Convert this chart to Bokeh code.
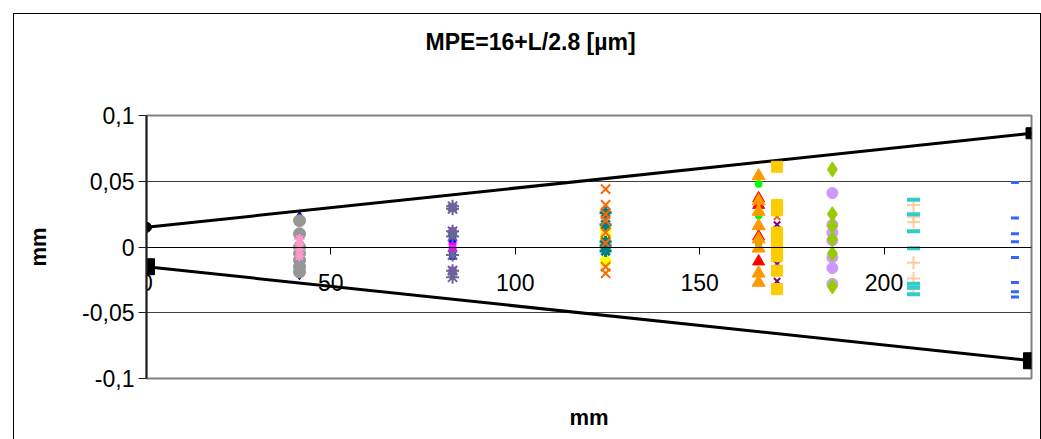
from bokeh.plotting import figure
from bokeh.models import Range1d, FixedTicker, CustomJSTickFormatter, LinearAxis, Title
from bokeh.embed import file_html
from bokeh.resources import INLINE

# ---------------- data ----------------
title_text = "MPE=16+L/2.8 [µm]"
x_ticks = [0, 50, 100, 150, 200]
y_ticks = [-0.1, -0.05, 0, 0.05, 0.1]

limit_x = [0, 240]
upper_limit = [0.015, 0.0865]
lower_limit = [-0.015, -0.0865]

# cluster L ~ 41.5
navy_x = [41.5, 41.5, 41.5]
navy_y = [0.022, 0.008, -0.020]
gray_x = [41.5, 41.5, 41.5, 41.5, 41.5, 41.5, 41.5]
gray_y = [0.020, 0.010, 0.000, -0.005, -0.010, -0.015, -0.019]
pink_x = [41.5, 41.5, 41.5, 41.5]
pink_y = [0.006, 0.002, -0.002, -0.007]

# cluster L ~ 83
slate_x = [83, 83, 83, 83, 83, 83, 83]
slate_y = [0.031, 0.029, 0.012, 0.008, -0.006, -0.018, -0.023]
magenta_x = [83, 83, 83, 83, 83]
magenta_y = [0.030, 0.012, 0.004, -0.002, -0.018]
blue_x = [83, 83, 83]
blue_y = [0.010, 0.006, -0.007]

# cluster L ~ 124.5
orange_x_x = [124.5, 124.5, 124.5, 124.5, 124.5, 124.5, 124.5, 124.5]
orange_x_y = [0.044, 0.032, 0.025, 0.020, 0.011, 0.003, -0.015, -0.020]
teal_x = [124.5, 124.5, 124.5, 124.5, 124.5]
teal_y = [0.026, 0.017, 0.004, 0.001, -0.003]
yellow_x = [124.5, 124.5, 124.5]
yellow_y = [0.014, 0.008, -0.011]

# cluster L ~ 166
otri_x = [166, 166, 166, 166, 166, 166, 166, 166]
otri_y = [0.054, 0.035, 0.027, 0.016, 0.006, -0.001, -0.020, -0.027]
rtri_x = [166, 166, 166, 166]
rtri_y = [0.037, 0.032, 0.008, -0.011]
green_x = [166, 166, 166]
green_y = [0.048, 0.024, 0.003]

# cluster L ~ 171
gold_x = [171, 171, 171, 171, 171, 171, 171, 171, 171, 171]
gold_y = [0.061, 0.032, 0.028, 0.011, 0.007, 0.002, -0.003, -0.007, -0.018, -0.032]
purple_x = [171, 171, 171, 171]
purple_y = [0.017, 0.005, -0.013, -0.026]
odia_x = [171, 171, 171]
odia_y = [0.023, 0.012, -0.005]

# cluster L ~ 186
gdia_x = [186, 186, 186, 186, 186, 186]
gdia_y = [0.059, 0.025, 0.016, 0.006, -0.005, -0.030]
lav_x = [186, 186, 186, 186, 186, 186, 186]
lav_y = [0.041, 0.017, 0.011, 0.005, -0.008, -0.016, -0.028]

# cluster L ~ 208
cyan_x = [208, 208, 208, 208, 208, 208, 208]
cyan_y = [0.036, 0.025, 0.012, -0.001, -0.028, -0.031, -0.036]
peach_x = [208, 208, 208, 208, 208, 208]
peach_y = [0.032, 0.023, 0.019, -0.012, -0.024, -0.032]

# cluster L ~ 235.5
bdash_x = [235.5, 235.5, 235.5, 235.5, 235.5, 235.5, 235.5, 235.5]
bdash_y = [0.049, 0.022, 0.010, 0.004, -0.008, -0.027, -0.034, -0.038]

FONT = "Liberation Sans"

p = figure(width=1028, height=426, output_backend="svg", toolbar_location=None,
           x_range=Range1d(0, 240), y_range=Range1d(-0.1, 0.1),
           min_border_left=132, min_border_right=11, min_border_top=101, min_border_bottom=62)
p.margin = (13, 0, 0, 13)
p.styles = {"border-top": "1px solid #000000", "border-left": "1px solid #000000",
            "border-right": "1px solid #000000"}

# spacer between frame and title, then the title itself
spacer = Title(text=" ", text_font_size="1px", standoff=58)
p.add_layout(spacer, "above")
main_title = Title(text=title_text, align="left", offset=279, standoff=0,
                   text_font=FONT, text_font_size="23px", text_font_style="bold",
                   text_color="black")
p.add_layout(main_title, "above")

p.outline_line_color = "#808080"
p.outline_line_width = 2
p.background_fill_color = "white"
p.border_fill_color = "white"

p.xgrid.visible = False
p.ygrid.ticker = FixedTicker(ticks=y_ticks)
p.ygrid.grid_line_color = "#404040"
p.ygrid.grid_line_width = 1

# x axis at y=0
xa = p.xaxis[0]
xa.ticker = FixedTicker(ticks=x_ticks)
xa.fixed_location = 0
xa.axis_line_color = "black"
xa.major_tick_line_color = "black"
xa.major_tick_out = 7
xa.major_tick_in = 0
xa.minor_tick_line_color = None
xa.major_label_text_font = FONT
xa.major_label_text_font_size = "23px"
xa.major_label_text_color = "black"
xa.major_label_standoff = 20

# second bottom axis only for label
xlab = LinearAxis(ticker=FixedTicker(ticks=[]), axis_label="mm",
                  axis_line_color=None, major_tick_line_color=None, minor_tick_line_color=None)
xlab.axis_label_text_font = FONT
xlab.axis_label_text_font_size = "22px"
xlab.axis_label_text_font_style = "bold"
xlab.axis_label_text_color = "black"
xlab.axis_label_standoff = 26
p.add_layout(xlab, "below")

ya = p.yaxis[0]
ya.ticker = FixedTicker(ticks=y_ticks)
ya.formatter = CustomJSTickFormatter(code="return (Math.round(tick*100)/100).toString().replace('.', ',');")
ya.axis_line_color = "#202020"
ya.axis_line_width = 2
ya.major_tick_line_color = "#202020"
ya.major_tick_out = 8
ya.major_tick_in = 0
ya.minor_tick_line_color = None
ya.major_label_text_font = FONT
ya.major_label_text_font_size = "23px"
ya.major_label_text_color = "black"
ya.major_label_standoff = 4
ya.axis_label = "mm"
ya.axis_label_text_font = FONT
ya.axis_label_text_font_size = "22px"
ya.axis_label_text_font_style = "bold"
ya.axis_label_text_color = "black"
ya.axis_label_standoff = 28

# limit lines
p.line(limit_x, upper_limit, line_color="black", line_width=3)
p.line(limit_x, lower_limit, line_color="black", line_width=3)
p.scatter(limit_x[:1], upper_limit[:1], marker="circle", size=10, color="black")
p.scatter(limit_x[1:], upper_limit[1:], marker="square", size=11, color="black")
p.scatter(limit_x, lower_limit, marker="square", size=16, color="black")

# measurement series
p.scatter(navy_x, navy_y, marker="diamond", size=13, color="#000080")
p.scatter(gray_x, gray_y, marker="circle", size=12, color="#969696")
p.scatter(pink_x, pink_y, marker="asterisk", size=10, line_color="#FF99CC", line_width=2)

p.scatter(magenta_x, magenta_y, marker="square", size=7, color="#FF00FF")
p.scatter(blue_x, blue_y, marker="square", size=6, color="#0000FF")
p.scatter(slate_x, slate_y, marker="asterisk", size=13, line_color="#666699", line_width=2)

p.scatter(yellow_x, yellow_y, marker="circle", size=11, color="#FFFF00")
p.scatter(teal_x, teal_y, marker="asterisk", size=12, line_color="#008080", line_width=3)
p.scatter(orange_x_x, orange_x_y, marker="x", size=13, line_color="#FF6600", line_width=2)

p.scatter(green_x, green_y, marker="circle", size=7, color="#00FF00")
p.scatter(rtri_x, rtri_y, marker="triangle", size=12, color="#FF0000")
p.scatter(otri_x, otri_y, marker="triangle", size=13, color="#FF9900")

p.scatter(purple_x, purple_y, marker="x", size=9, line_color="#800080", line_width=2)
p.scatter(odia_x, odia_y, marker="x", size=9, line_color="#FF6600", line_width=2)
p.scatter(gold_x, gold_y, marker="square", size=11, color="#FFCC00")

p.scatter(lav_x, lav_y, marker="circle", size=11, color="#CC99FF")
p.scatter(gdia_x, gdia_y, marker="diamond", size=15, color="#99CC00")

p.scatter(peach_x, peach_y, marker="cross", size=13, line_color="#FFCC99", line_width=2)
p.scatter(cyan_x, cyan_y, marker="dash", size=13, line_color="#33CCCC", line_width=4)

p.scatter(bdash_x, bdash_y, marker="dash", size=8, line_color="#3366FF", line_width=3)

open("out.html", "w").write(file_html(p, INLINE))
